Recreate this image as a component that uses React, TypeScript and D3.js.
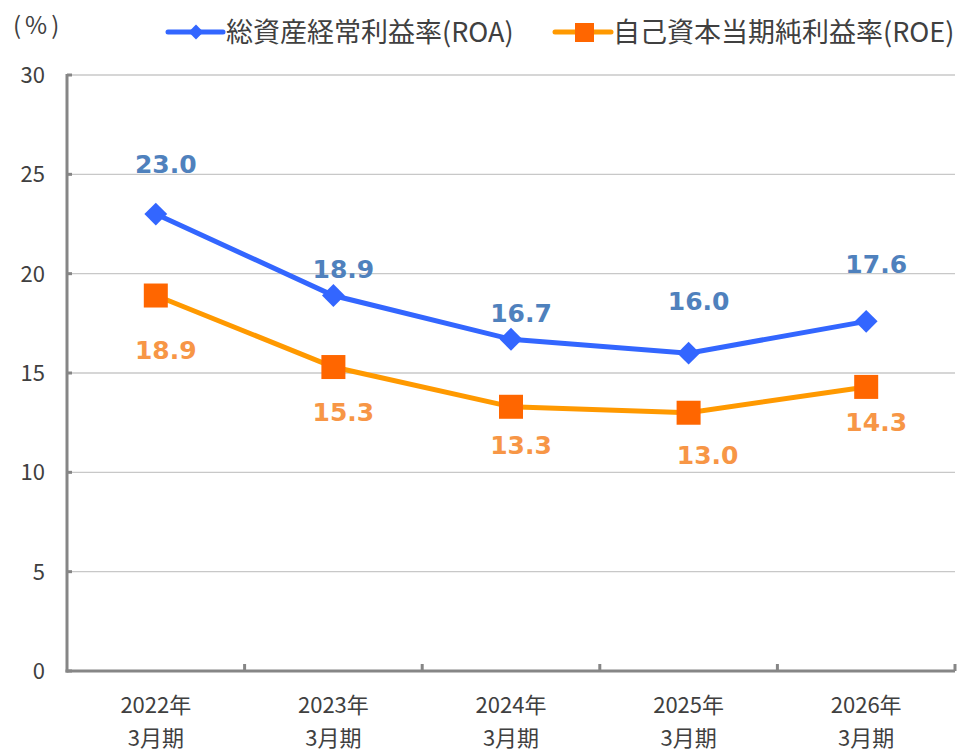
import { useEffect, useRef } from "react";
import * as d3 from "d3";

// 決算期（2行ラベル）
const periods = ["2022年|3月期", "2023年|3月期", "2024年|3月期", "2025年|3月期", "2026年|3月期"];
const roa = [23.0, 18.9, 16.7, 16.0, 17.6];
const roe = [18.9, 15.3, 13.3, 13.0, 14.3];
const yTicks = [0, 5, 10, 15, 20, 25, 30];

const W = 971;
const H = 751;
const FONT = "'Noto Sans CJK JP', 'Noto Sans', sans-serif";

export default function App() {
  const ref = useRef<SVGSVGElement | null>(null);

  useEffect(() => {
    if (!ref.current) return;
    const svg = d3.select(ref.current);
    svg.selectAll("*").remove();

    const left = 67;
    const right = 955;
    const top = 75;
    const bottom = 671;

    const x = d3.scaleBand<string>().domain(periods).range([left, right]);
    const y = d3.scaleLinear().domain([0, 30]).range([bottom, top]);
    const cx = (i: number) => (x(periods[i]) || 0) + x.bandwidth() / 2;

    // grid
    svg
      .append("g")
      .selectAll("line")
      .data(yTicks.filter((t) => t > 0))
      .enter()
      .append("line")
      .attr("x1", left)
      .attr("x2", right)
      .attr("y1", (d) => y(d))
      .attr("y2", (d) => y(d))
      .attr("stroke", "#c8c8c8")
      .attr("stroke-width", 1.3);

    // axes
    const axisColor = "#868686";
    svg
      .append("line")
      .attr("x1", left)
      .attr("x2", left)
      .attr("y1", top - 1)
      .attr("y2", bottom + 1.5)
      .attr("stroke", axisColor)
      .attr("stroke-width", 3);
    svg
      .append("line")
      .attr("x1", left - 1.5)
      .attr("x2", right)
      .attr("y1", bottom)
      .attr("y2", bottom)
      .attr("stroke", axisColor)
      .attr("stroke-width", 3);

    // y ticks (inside)
    svg
      .append("g")
      .selectAll("line")
      .data(yTicks)
      .enter()
      .append("line")
      .attr("x1", left)
      .attr("x2", left + 5)
      .attr("y1", (d) => y(d))
      .attr("y2", (d) => y(d))
      .attr("stroke", axisColor)
      .attr("stroke-width", 3);

    // x ticks at category boundaries
    const bounds = periods.map((p) => (x(p) || 0)).concat([right]).slice(1);
    svg
      .append("g")
      .selectAll("line")
      .data(bounds)
      .enter()
      .append("line")
      .attr("x1", (d) => d)
      .attr("x2", (d) => d)
      .attr("y1", bottom)
      .attr("y2", bottom - 7)
      .attr("stroke", axisColor)
      .attr("stroke-width", 3);

    // y labels
    svg
      .append("g")
      .selectAll("text")
      .data(yTicks)
      .enter()
      .append("text")
      .attr("x", 45)
      .attr("y", (d) => y(d))
      .attr("dy", "0.36em")
      .attr("text-anchor", "end")
      .style("font-family", FONT)
      .style("font-size", "22px")
      .attr("fill", "#404040")
      .text((d) => d);

    // x labels
    const xl = svg
      .append("g")
      .selectAll("text")
      .data(periods)
      .enter()
      .append("text")
      .attr("text-anchor", "middle")
      .style("font-family", FONT)
      .style("font-size", "22px")
      .attr("fill", "#404040");
    xl.append("tspan")
      .attr("x", (d) => (x(d) || 0) + x.bandwidth() / 2)
      .attr("y", 713)
      .text((d) => d.split("|")[0]);
    xl.append("tspan")
      .attr("x", (d) => (x(d) || 0) + x.bandwidth() / 2)
      .attr("y", 746)
      .text((d) => d.split("|")[1]);

    const line = d3
      .line<number>()
      .x((_, i) => cx(i))
      .y((d) => y(d));

    const blue = "#3366ff";
    const orange = "#ff9900";
    const orangeMark = "#ff6600";

    svg
      .append("path")
      .attr("d", line(roa) || "")
      .attr("fill", "none")
      .attr("stroke", blue)
      .attr("stroke-width", 5);
    svg
      .append("path")
      .attr("d", line(roe) || "")
      .attr("fill", "none")
      .attr("stroke", orange)
      .attr("stroke-width", 5);

    const diamond = d3.symbol().type(d3.symbolSquare).size(260);
    svg
      .append("g")
      .selectAll("path")
      .data(roa)
      .enter()
      .append("path")
      .attr("d", diamond() || "")
      .attr("transform", (d, i) => `translate(${cx(i)},${y(d)}) rotate(45)`)
      .attr("fill", blue);

    svg
      .append("g")
      .selectAll("rect")
      .data(roe)
      .enter()
      .append("rect")
      .attr("x", (_, i) => cx(i) - 12)
      .attr("y", (d) => y(d) - 12)
      .attr("width", 24)
      .attr("height", 24)
      .attr("fill", orangeMark);

    // data labels: offsets per point, roughly as Excel placed them
    const roaDy = [-50, -27, -26, -52, -57];
    const roeDy = [54, 45, 38, 42, 35];
    const labelFont = "'DejaVu Sans', Verdana, sans-serif";

    svg
      .append("g")
      .selectAll("text")
      .data(roa)
      .enter()
      .append("text")
      .attr("x", (_, i) => cx(i) + 10)
      .attr("y", (d, i) => y(d) + roaDy[i])
      .attr("dy", "0.36em")
      .attr("text-anchor", "middle")
      .style("font-family", labelFont)
      .style("font-weight", 700)
      .style("font-size", "25px")
      .attr("fill", "#4f81bd")
      .text((d) => d.toFixed(1));

    svg
      .append("g")
      .selectAll("text")
      .data(roe)
      .enter()
      .append("text")
      .attr("x", (_, i) => cx(i) + (i === 3 ? 19 : 10))
      .attr("y", (d, i) => y(d) + roeDy[i])
      .attr("dy", "0.36em")
      .attr("text-anchor", "middle")
      .style("font-family", labelFont)
      .style("font-weight", 700)
      .style("font-size", "25px")
      .attr("fill", "#f79646")
      .text((d) => d.toFixed(1));

    // unit
    svg
      .append("text")
      .attr("x", 13)
      .attr("y", 34)
      .style("font-family", FONT)
      .style("font-size", "24px")
      .style("letter-spacing", "4px")
      .attr("fill", "#404040")
      .text("(%)");

    // legend
    const lg = svg.append("g");
    lg.append("line")
      .attr("x1", 168)
      .attr("x2", 223)
      .attr("y1", 32)
      .attr("y2", 32)
      .attr("stroke", blue)
      .attr("stroke-width", 5)
      .attr("stroke-linecap", "round");
    lg.append("path")
      .attr("d", d3.symbol().type(d3.symbolSquare).size(110)() || "")
      .attr("transform", "translate(196,32) rotate(45)")
      .attr("fill", blue);
    lg.append("text")
      .attr("x", 226)
      .attr("y", 32)
      .attr("dy", "0.36em")
      .style("font-family", FONT)
      .style("font-size", "27px")
      .attr("fill", "#404040")
      .text("総資産経常利益率(ROA)");

    lg.append("line")
      .attr("x1", 555)
      .attr("x2", 611)
      .attr("y1", 32)
      .attr("y2", 32)
      .attr("stroke", orange)
      .attr("stroke-width", 5)
      .attr("stroke-linecap", "round");
    lg.append("rect")
      .attr("x", 575)
      .attr("y", 23)
      .attr("width", 19)
      .attr("height", 19)
      .attr("fill", orangeMark);
    lg.append("text")
      .attr("x", 613)
      .attr("y", 32)
      .attr("dy", "0.36em")
      .style("font-family", FONT)
      .style("font-size", "27px")
      .attr("fill", "#404040")
      .text("自己資本当期純利益率(ROE)");
  }, []);

  return (
    <svg
      ref={ref}
      width={W}
      height={H}
      style={{ position: "absolute", left: 0, top: 0, background: "#fff" }}
    />
  );
}
